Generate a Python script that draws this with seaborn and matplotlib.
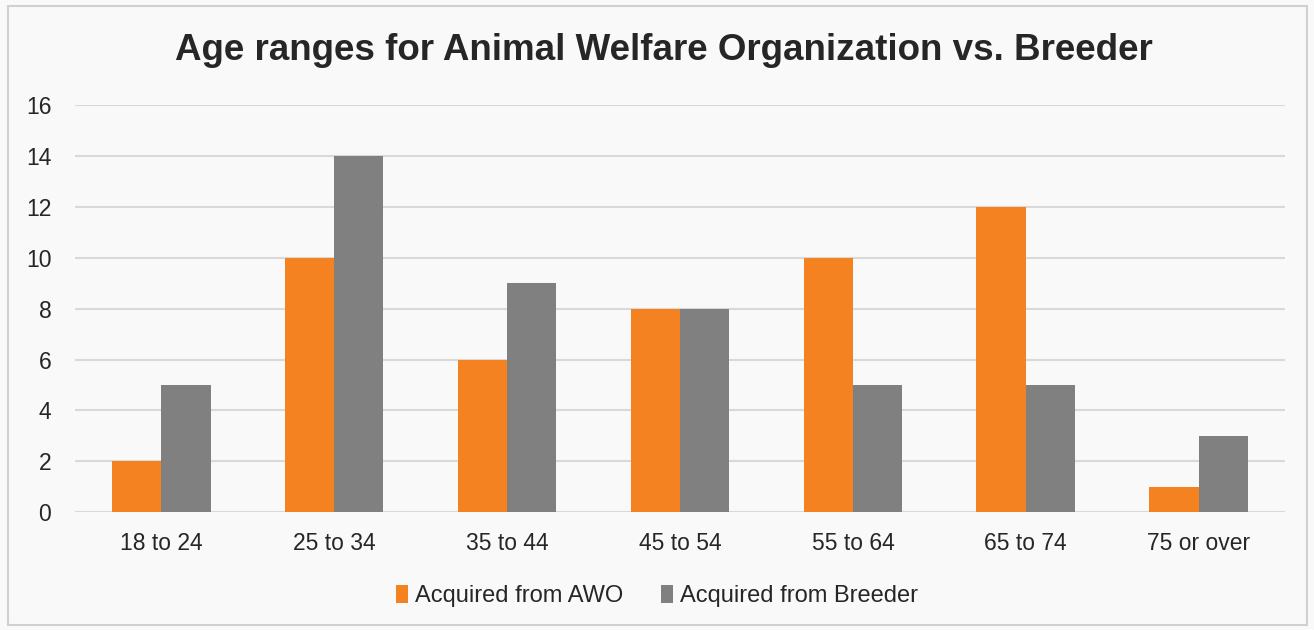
import numpy as np
import pandas as pd
import matplotlib.pyplot as plt
import seaborn as sns
from matplotlib.patches import Rectangle, Patch

ages = ["18 to 24", "25 to 34", "35 to 44", "45 to 54", "55 to 64", "65 to 74", "75 or over"]
awo = [2, 10, 6, 8, 10, 12, 1]
breeder = [5, 14, 9, 8, 5, 5, 3]
series = ["Acquired from AWO", "Acquired from Breeder"]
colors = ["#f58220", "#808080"]

df = pd.DataFrame({
    "age": ages * 2,
    "count": awo + breeder,
    "source": [series[0]] * len(ages) + [series[1]] * len(ages),
})

sns.set_theme(style="white")
plt.rcParams['font.family'] = ['Liberation Sans', 'DejaVu Sans']

fig = plt.figure(figsize=(13.14, 6.3), dpi=100, facecolor="#f9f9f9")
ax = fig.add_axes([0.057, 0.187, 0.921, 0.646])
ax.set_facecolor("#f9f9f9")

sns.barplot(data=df, x="age", y="count", hue="source", palette=colors,
            width=0.57, gap=0, saturation=1, linewidth=0, ax=ax,
            legend=False, zorder=3)

ax.set_ylim(0, 16)
ax.set_yticks(np.arange(0, 17, 2))
ax.yaxis.grid(True, color="#d9d9d9", linewidth=1.5, zorder=0)
ax.set_axisbelow(True)
for s in ax.spines.values():
    s.set_visible(False)
ax.set_xlabel("")
ax.set_ylabel("")
ax.tick_params(axis="y", length=0, pad=17, labelsize=16.5, labelcolor="#262626")
ax.tick_params(axis="x", length=0, pad=14, labelsize=16.5, labelcolor="#262626")

fig.text(0.505, 0.92, "Age ranges for Animal Welfare Organization vs. Breeder",
         ha="center", va="center", fontsize=26.5, fontweight="bold", color="#262626")

handles = [Patch(facecolor=c, edgecolor="none") for c in colors]
fig.legend(handles, series, loc="center", bbox_to_anchor=(0.5, 0.054), ncol=2,
           frameon=False, fontsize=17, handlelength=0.5, handleheight=0.8,
           handletextpad=0.3, columnspacing=1.6, labelcolor="#262626")

fig.patches.append(Rectangle((8 / 1314, 5 / 630), 1299 / 1314, 619 / 630,
                             transform=fig.transFigure, fill=False,
                             edgecolor="#d0d0d0", linewidth=1.5))

fig.savefig("out.png", dpi=100, facecolor=fig.get_facecolor())
